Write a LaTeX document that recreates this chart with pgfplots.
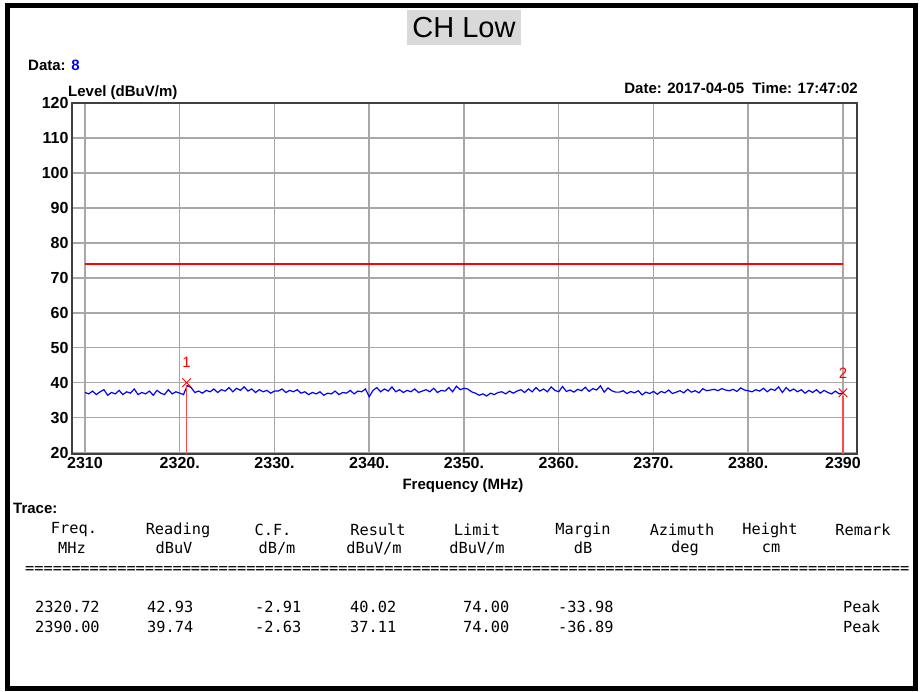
\documentclass[border=0pt]{standalone}
\usepackage{fontspec}
\setmainfont{Liberation Sans}
\newfontfamily\mono{DejaVu Sans Mono}
\usepackage{pgfplots}
\usepackage{pgfplotstable}
\pgfplotsset{compat=1.18}
\definecolor{gridgray}{HTML}{A8A8A8}
\definecolor{framegray}{HTML}{404040}
\definecolor{boxgray}{HTML}{D9D9D9}
\definecolor{mkred}{HTML}{FF4848}

% measured trace, dBuV/m
\pgfplotstableread{
f l
2310.0 37.2
2310.4 36.8
2310.8 37.6
2311.2 36.6
2311.6 37.4
2312.0 38.0
2312.4 36.4
2312.8 37.2
2313.2 36.8
2313.6 37.8
2314.0 36.6
2314.4 37.4
2314.8 37.0
2315.2 38.2
2315.6 36.6
2316.0 37.2
2316.4 36.8
2316.8 37.6
2317.2 36.4
2317.6 37.8
2318.0 37.0
2318.4 36.6
2318.8 38.0
2319.2 36.8
2319.6 37.4
2320.0 37.0
2320.4 36.6
2320.8 39.2
2321.2 38.6
2321.6 37.2
2322.0 37.6
2322.4 37.0
2322.8 37.8
2323.2 37.4
2323.6 38.2
2324.0 37.2
2324.4 38.0
2324.8 37.6
2325.2 38.6
2325.6 37.4
2326.0 38.4
2326.4 37.8
2326.8 38.8
2327.2 37.6
2327.6 38.2
2328.0 37.2
2328.4 38.0
2328.8 37.4
2329.2 37.8
2329.6 37.0
2330.0 37.6
2330.4 37.6
2330.8 38.2
2331.2 37.2
2331.6 37.8
2332.0 37.4
2332.4 38.0
2332.8 37.0
2333.2 37.4
2333.6 36.6
2334.0 37.2
2334.4 36.8
2334.8 37.4
2335.2 36.4
2335.6 37.0
2336.0 36.8
2336.4 37.6
2336.8 36.6
2337.2 37.2
2337.6 37.0
2338.0 37.8
2338.4 36.8
2338.8 37.6
2339.2 37.4
2339.6 38.2
2340.0 36.0
2340.4 37.8
2340.8 38.6
2341.2 37.4
2341.6 38.2
2342.0 37.6
2342.4 38.8
2342.8 37.4
2343.2 38.0
2343.6 37.2
2344.0 37.8
2344.4 37.4
2344.8 38.2
2345.2 37.2
2345.6 37.6
2346.0 38.0
2346.4 37.4
2346.8 38.4
2347.2 37.2
2347.6 37.8
2348.0 37.6
2348.4 38.6
2348.8 37.4
2349.2 39.0
2349.6 38.0
2350.0 38.4
2350.4 38.2
2350.8 37.4
2351.2 37.0
2351.6 36.4
2352.0 36.8
2352.4 36.2
2352.8 37.0
2353.2 36.6
2353.6 37.2
2354.0 37.4
2354.4 36.8
2354.8 37.6
2355.2 37.0
2355.6 37.6
2356.0 38.0
2356.4 37.2
2356.8 38.2
2357.2 37.4
2357.6 38.6
2358.0 37.6
2358.4 38.2
2358.8 37.4
2359.2 38.8
2359.6 37.8
2360.0 37.4
2360.4 38.9
2360.8 37.5
2361.2 37.9
2361.6 37.3
2362.0 38.1
2362.4 37.7
2362.8 38.7
2363.2 37.5
2363.6 38.3
2364.0 37.9
2364.4 39.1
2364.8 37.3
2365.2 38.5
2365.6 37.7
2366.0 37.3
2366.4 37.3
2366.8 37.7
2367.2 36.9
2367.6 37.5
2368.0 37.1
2368.4 37.7
2368.8 36.5
2369.2 37.3
2369.6 36.9
2370.0 37.5
2370.4 36.7
2370.8 37.5
2371.2 37.1
2371.6 37.9
2372.0 36.9
2372.4 37.3
2372.8 37.7
2373.2 37.1
2373.6 38.1
2374.0 37.3
2374.4 37.7
2374.8 37.1
2375.2 38.3
2375.6 37.7
2376.0 37.9
2376.4 38.1
2376.8 37.7
2377.2 38.3
2377.6 37.9
2378.0 37.7
2378.4 38.1
2378.8 37.5
2379.2 38.5
2379.6 37.9
2380.0 37.7
2380.4 37.4
2380.8 38.0
2381.2 37.6
2381.6 38.4
2382.0 37.4
2382.4 38.2
2382.8 37.8
2383.2 38.8
2383.6 37.2
2384.0 38.6
2384.4 37.6
2384.8 38.2
2385.2 37.4
2385.6 38.0
2386.0 37.0
2386.4 37.8
2386.8 37.2
2387.2 38.0
2387.6 37.0
2388.0 37.8
2388.4 37.2
2388.8 36.8
2389.2 37.6
2389.6 36.8
2390.0 37.11
}\trace

\newcommand\tickfont{\bfseries\fontsize{16}{16}\selectfont}
\newcommand\labfont{\bfseries\fontsize{15}{15}\selectfont}
\newcommand\tabfont{\mono\fontsize{15.3}{16}\selectfont}

\begin{document}
\begin{tikzpicture}
\useasboundingbox (0pt,0pt) rectangle (921pt,-691pt);
\fill[white] (0pt,0pt) rectangle (921pt,-691pt);

\begin{axis}[
  at={(72pt,-454pt)}, anchor=south west,
  scale only axis, width=785pt, height=351pt,
  xmin=2308.63, xmax=2391.48, ymin=19.6, ymax=120,
  xtick={2310,2320,...,2390},
  xticklabels={2310,2320.,2330.,2340.,2350.,2360.,2370.,2380.,2390},
  ytick={20,30,...,120},
  grid=major, major grid style={draw=gridgray, line width=1.5pt},
  major tick length=0pt,
  axis line style={draw=framegray, line width=2pt},
  tick label style={font=\tickfont},
  /pgf/number format/assume math mode=true,
]
\addplot[red, line width=1.5pt] coordinates {(2310,74) (2390,74)};
\addplot[blue, line width=1.2pt] table[x=f, y=l] {\trace};
\addplot[mkred, line width=1.8pt] coordinates {(2320.72,39.2) (2320.72,19.6)};
\addplot[mkred, line width=1.8pt] coordinates {(2390,36.3) (2390,19.6)};
\addplot[only marks, mark=x, mark size=6pt, red, line width=0.9pt,
  nodes near coords, point meta=explicit symbolic,
  every node near coord/.style={anchor=center, yshift=20pt, red,
    font=\fontsize{15}{15}\selectfont}]
  coordinates {(2320.72,40.02) [1] (2390,37.11) [2]};
\end{axis}

\begin{scope}[x=1pt, y=-1pt]
% title box
\fill[boxgray] (407,10) rectangle (521,45);
\node[font=\fontsize{29}{29}\selectfont, inner sep=0] at (464,28) {CH Low};
% header texts
\node[anchor=west, font=\labfont, inner sep=0] at (28,65) {Data: \textcolor{blue}{8}};
\node[anchor=west, font=\labfont, inner sep=0] at (68,93) {Level (dBuV/m)};
\node[anchor=east, font=\labfont, inner sep=0] at (858,88) {Date: 2017-04-05\ \ Time: 17:47:02};
\node[font=\labfont, inner sep=0] at (463,486) {Frequency (MHz)};
\node[anchor=west, font=\labfont, inner sep=0] at (13,508) {Trace:};
% table
\foreach \x/\t in {74/Freq., 178/Reading, 273/C.F., 378/Result, 477/Limit,
  583/Margin, 682/Azimuth, 770/Height, 863/Remark}
  \node[font=\tabfont, inner sep=0] at (\x,530) {\t};
\foreach \x/\t in {72/MHz, 174/dBuV, 277/dB\slash m, 374/dBuV\slash m,
  477/dBuV\slash m, 583/dB, 685/deg, 771/cm}
  \node[font=\tabfont, inner sep=0] at (\x,548) {\t};
\node[anchor=west, font=\tabfont, inner sep=0] at (25,570)
  {================================================================================================};
\foreach \x/\t in {35/2320.72, 147/42.93, 255/-2.91, 350/40.02, 463/74.00, 558/-33.98, 843/Peak}
  \node[anchor=west, font=\tabfont, inner sep=0] at (\x,607) {\t};
\foreach \x/\t in {35/2390.00, 147/39.74, 255/-2.63, 350/37.11, 463/74.00, 558/-36.89, 843/Peak}
  \node[anchor=west, font=\tabfont, inner sep=0] at (\x,627) {\t};
% outer border
\draw[black, line width=4.5pt] (7.5,5.5) rectangle (915.5,688.5);
\end{scope}
\end{tikzpicture}
\end{document}
